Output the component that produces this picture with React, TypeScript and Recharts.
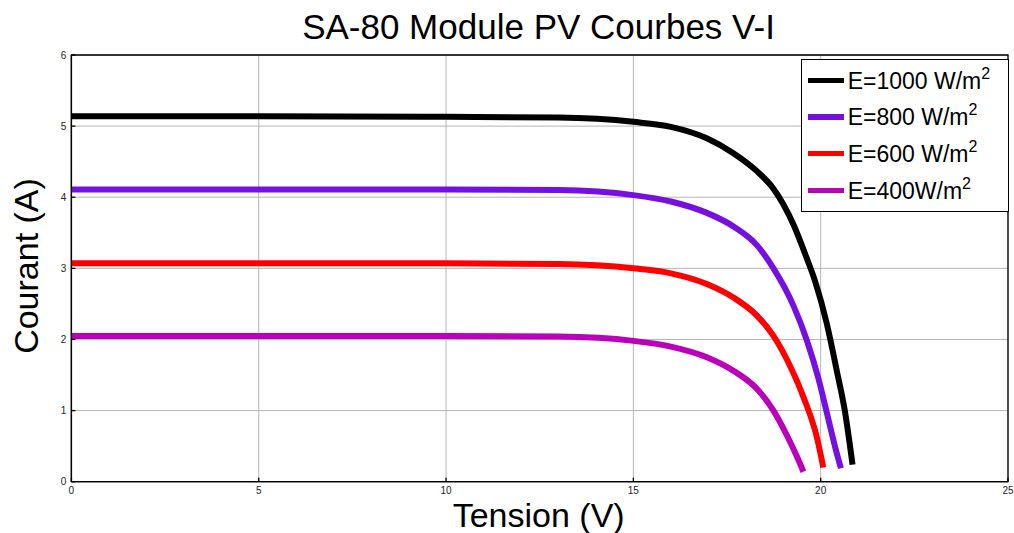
import React from 'react';
import { LineChart, Line, XAxis, YAxis, CartesianGrid, ReferenceArea } from 'recharts';

const title = 'SA-80 Module PV Courbes V-I';
const xLabel = 'Tension (V)';
const yLabel = 'Courant (A)';
const xTicks = [0, 5, 10, 15, 20, 25];
const yTicks = [0, 1, 2, 3, 4, 5, 6];

const seriesNames = ['E=1000 W/m', 'E=800 W/m', 'E=600 W/m', 'E=400W/m'];
const seriesColors = ['#000000', '#7510e0', '#ff0000', '#bb00bb'];

const vE1000 = [0, 5, 10, 13, 15, 16, 16.96, 17.67, 18.29, 18.74, 19.27, 19.63, 19.85, 20.16, 20.43, 20.65, 20.85];
const iE1000 = [5.14, 5.14, 5.13, 5.12, 5.06, 4.99, 4.83, 4.62, 4.37, 4.12, 3.62, 3.14, 2.82, 2.23, 1.56, 0.98, 0.24];

const vE800 = [0, 5, 10, 13, 15, 16, 16.96, 17.67, 18.29, 18.74, 19.27, 19.63, 19.94, 20.16, 20.38, 20.54];
const iE800 = [4.11, 4.11, 4.11, 4.10, 4.03, 3.94, 3.78, 3.59, 3.33, 3.00, 2.48, 1.99, 1.45, 0.98, 0.50, 0.19];

const vE600 = [0, 5, 10, 13, 15, 16, 16.96, 17.67, 18.29, 18.74, 19.18, 19.54, 19.9, 20.07];
const iE600 = [3.07, 3.07, 3.07, 3.06, 3.00, 2.93, 2.78, 2.59, 2.34, 2.05, 1.63, 1.19, 0.62, 0.20];

const vE400 = [0, 5, 10, 13, 15, 16, 16.96, 17.67, 18.29, 18.74, 19.09, 19.36, 19.54];
const iE400 = [2.05, 2.05, 2.05, 2.04, 1.98, 1.90, 1.75, 1.56, 1.31, 1.00, 0.66, 0.36, 0.14];

const toData = (vs: number[], is: number[]) => vs.map((v, k) => ({ v, i: is[k] }));
const seriesData = [toData(vE1000, iE1000), toData(vE800, iE800), toData(vE600, iE600), toData(vE400, iE400)];

const FONT = '"Liberation Sans", Arial, Helvetica, sans-serif';

const LegendBox = () => (
  <div
    style={{
      position: 'absolute',
      left: 792.7,
      top: 51.3,
      width: 208,
      height: 153,
      border: '1.3px solid #000',
      background: '#fff',
      fontFamily: FONT,
      boxSizing: 'border-box',
      zIndex: 3,
    }}
  >
    {seriesNames.map((name, k) => (
      <div
        key={name}
        style={{ position: 'absolute', left: 6, top: 20 + k * 36.7 - 15, height: 30, display: 'flex', alignItems: 'center' }}
      >
        <div style={{ width: 36, height: 5.5, background: seriesColors[k] }} />
        <span style={{ marginLeft: 4, fontSize: 23, color: '#000', lineHeight: '30px', position: 'relative', top: 2, whiteSpace: 'nowrap' }}>
          {name}
          <span style={{ fontSize: 16, position: 'relative', top: -10 }}>2</span>
        </span>
      </div>
    ))}
  </div>
);

export default function App() {
  return (
    <div style={{ position: 'relative', width: 1014, height: 533, background: '#fff', overflow: 'hidden' }}>
      <style>{`html,body{margin:0;padding:0;overflow:hidden}.recharts-surface{overflow:visible}`}</style>
      <div style={{ position: 'absolute', left: 8, top: 8, width: 1006, height: 525, fontFamily: FONT }}>
        <div
          style={{
            position: 'absolute',
            left: 0,
            width: 1061,
            top: 1,
            textAlign: 'center',
            fontSize: 35,
            lineHeight: '35px',
            color: '#000',
            zIndex: 2,
            pointerEvents: 'none',
          }}
        >
          {title}
        </div>
        <LineChart width={1006} height={525} margin={{ top: 47, right: 6, left: 23.4, bottom: 31.3 }}>
          <CartesianGrid stroke="#b4b4b4" strokeWidth={1} />
          <XAxis
            type="number"
            dataKey="v"
            domain={[0, 25]}
            ticks={xTicks}
            interval={0}
            height={20}
            allowDuplicatedCategory={false}
            stroke="#000"
            strokeWidth={1.3}
            tickSize={-4}
            tickMargin={9}
            tick={{ fontSize: 10, fill: '#222', fontFamily: FONT }}
            label={{
              content: () => (
                <text x={530.7} y={518.5} textAnchor="middle" fontSize={34} fontFamily={FONT} fill="#000">
                  {xLabel}
                </text>
              ),
            }}
          />
          <YAxis
            type="number"
            dataKey="i"
            domain={[0, 6]}
            ticks={yTicks}
            interval={0}
            width={40}
            stroke="#000"
            strokeWidth={1.3}
            tickSize={-4}
            tickMargin={9}
            tick={{ fontSize: 10, fill: '#222', fontFamily: FONT }}
            label={{
              content: () => (
                <text
                  x={29.5}
                  y={258}
                  transform="rotate(-90 29.5 258)"
                  textAnchor="middle"
                  fontSize={34}
                  fontFamily={FONT}
                  fill="#000"
                >
                  {yLabel}
                </text>
              ),
            }}
          />
          <ReferenceArea x1={0} x2={25} y1={0} y2={6} fill="none" stroke="#000" strokeWidth={1.3} ifOverflow="visible" />
          {seriesData.map((d, k) => (
            <Line
              key={seriesNames[k]}
              data={d}
              dataKey="i"
              name={seriesNames[k]}
              type="monotone"
              stroke={seriesColors[k]}
              strokeWidth={6}
              dot={false}
              activeDot={false}
              isAnimationActive={false}
            />
          ))}
        </LineChart>
        <LegendBox />
      </div>
    </div>
  );
}
